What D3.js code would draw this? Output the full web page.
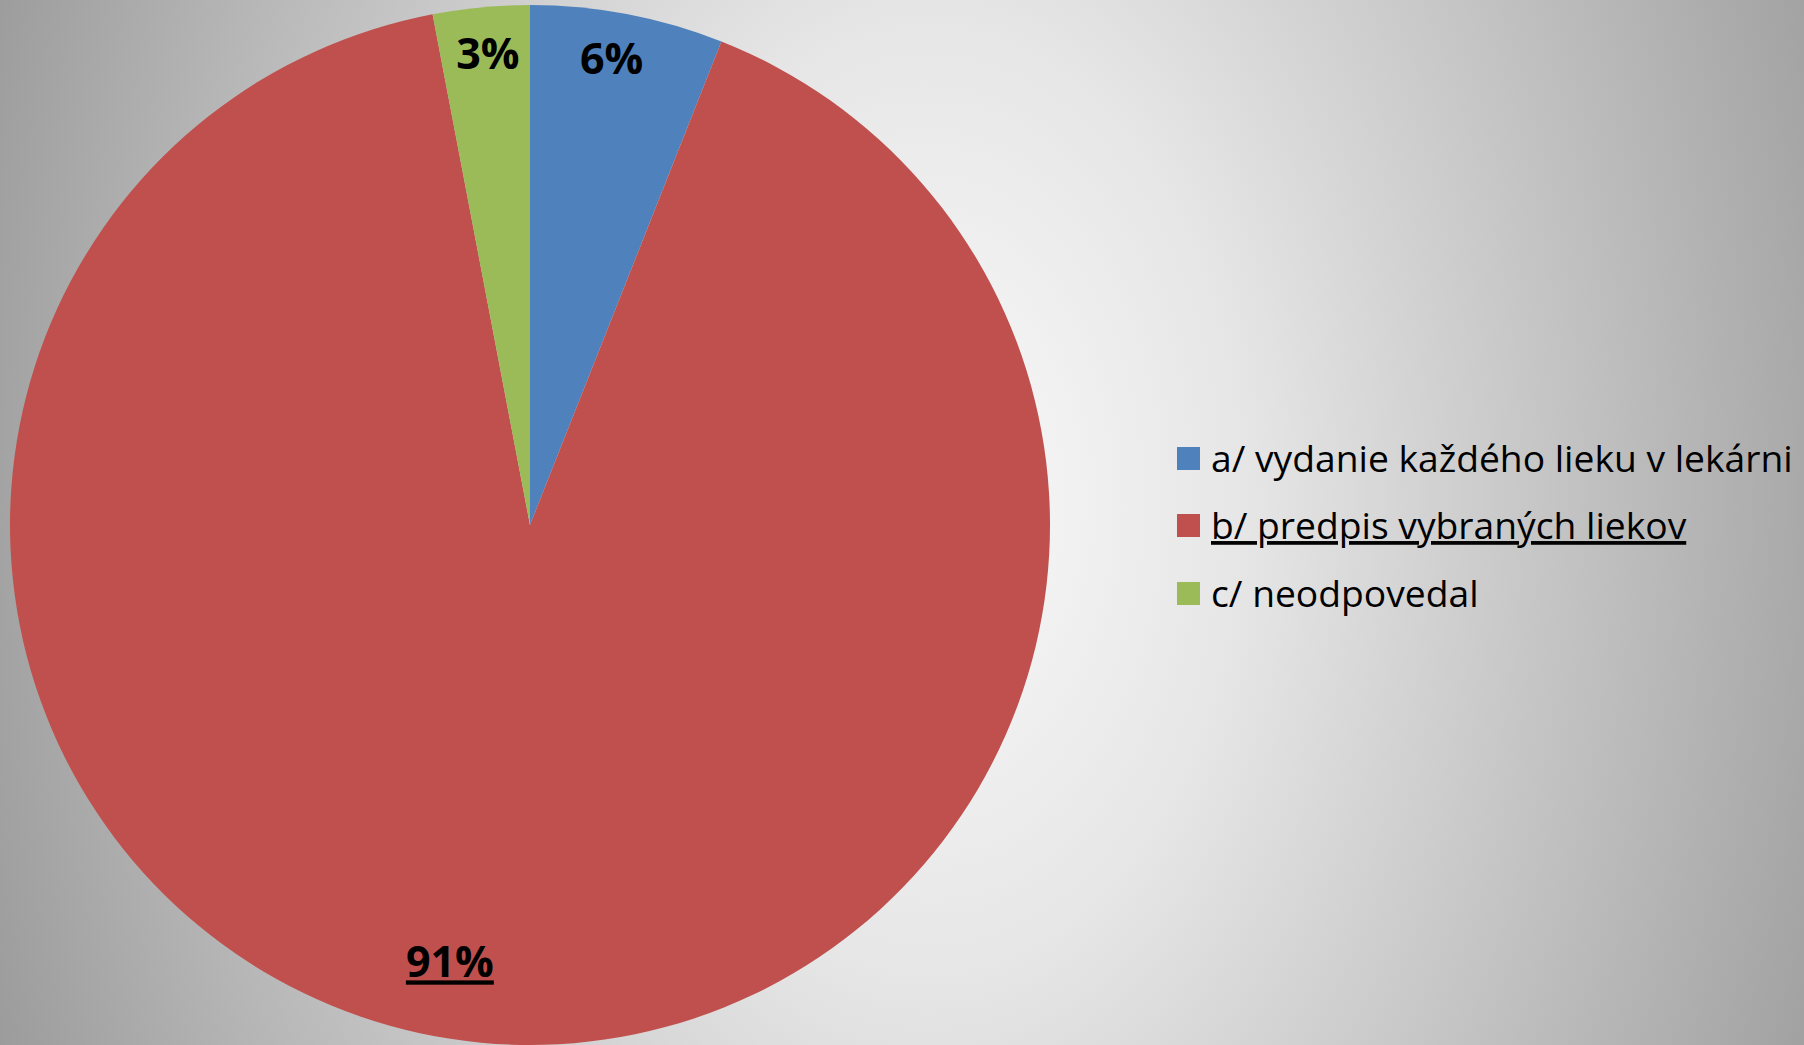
<!DOCTYPE html>
<html>
<head>
<meta charset="utf-8">
<script src="https://cdn.jsdelivr.net/npm/d3@7"></script>
<style>
  body { margin: 0; overflow: hidden; }
  svg { display: block; }
</style>
</head>
<body>
<div id="chart"></div>
<script>
const categories = ["a/ vydanie každého lieku v lekárni", "b/ predpis vybraných liekov", "c/ neodpovedal"];
const values = [6, 91, 3];
const labels = ["6%", "91%", "3%"];
const colors = ["#4f81bd", "#c0504d", "#9bbb59"];
const underlined = [false, true, false];

const width = 1804, height = 1045;
const cx = 530, cy = 525, radius = 520;

const svg = d3.select("#chart").append("svg")
    .attr("width", width)
    .attr("height", height);

// background: soft elliptical grey gradient
const grad = svg.append("defs").append("radialGradient")
    .attr("id", "bg")
    .attr("gradientUnits", "userSpaceOnUse")
    .attr("cx", 0).attr("cy", 0).attr("r", 1)
    .attr("gradientTransform", "translate(930,500) scale(1050,1600)");
grad.append("stop").attr("offset", "0%").attr("stop-color", "#fafafa");
grad.append("stop").attr("offset", "30%").attr("stop-color", "#e6e6e6");
grad.append("stop").attr("offset", "100%").attr("stop-color", "#969696");

svg.append("rect")
    .attr("width", width).attr("height", height)
    .attr("fill", "url(#bg)");

const pie = d3.pie().sort(null).value(d => d);
const arcs = pie(values);
const arc = d3.arc().innerRadius(0).outerRadius(radius);

const g = svg.append("g").attr("transform", `translate(${cx},${cy})`);

g.selectAll("path")
    .data(arcs)
    .enter()
    .append("path")
    .attr("d", arc)
    .attr("fill", (d, i) => colors[i]);

// data labels, near the rim like the original (best fit placement)
const labelR = [0.91, 0.855, 0.91];
const labelShift = [-0.015, 0.087, 0.005]; // radians
g.selectAll("text.lbl")
    .data(arcs)
    .enter()
    .append("text")
    .attr("class", "lbl")
    .attr("transform", (d, i) => {
        const a = (d.startAngle + d.endAngle) / 2 + labelShift[i];
        const r = labelR[i] * radius;
        return `translate(${Math.sin(a) * r},${-Math.cos(a) * r})`;
    })
    .attr("text-anchor", "middle")
    .attr("dy", "0.35em")
    .style("font-family", "'Open Sans', sans-serif")
    .style("font-weight", "bold")
    .style("font-size", "43px")
    .style("text-decoration", (d, i) => underlined[i] ? "underline" : null)
    .text((d, i) => labels[i]);

// legend
const legend = svg.append("g").attr("transform", "translate(1177,0)");
const rowY = [459, 526, 594];
const rows = legend.selectAll("g")
    .data(categories)
    .enter()
    .append("g")
    .attr("transform", (d, i) => `translate(0,${rowY[i]})`);

rows.append("rect")
    .attr("x", 0).attr("y", -12)
    .attr("width", 23).attr("height", 23)
    .attr("fill", (d, i) => colors[i]);

const lt = rows.append("text")
    .attr("x", 34)
    .attr("dy", "0.35em")
    .style("font-family", "'Open Sans', sans-serif")
    .style("font-size", "32px")
    .style("text-decoration", (d, i) => underlined[i] ? "underline" : null)
    .text(d => d);

// fit first legend entry to the original width
const w0 = lt.node().getComputedTextLength();
const fs = 32 * 582 / w0;
lt.style("font-size", fs + "px");
</script>
</body>
</html>
